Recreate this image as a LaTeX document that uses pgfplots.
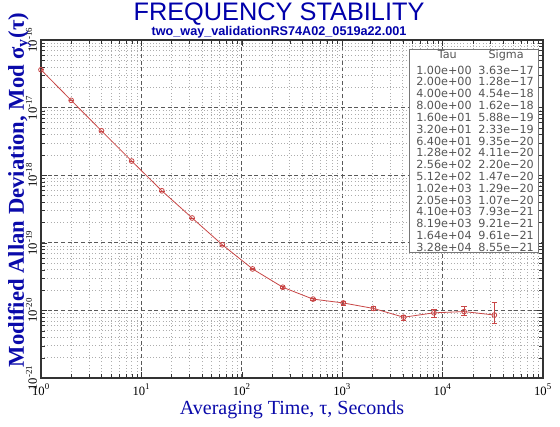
\documentclass[border=0pt]{standalone}
\usepackage{pgfplots}
\pgfplotsset{compat=1.18}
\usepackage{fontspec}
\setmainfont{Liberation Serif}
\newfontfamily\helv{Liberation Sans}
\newfontfamily\dvs{DejaVu Sans}
\definecolor{ttlblue}{RGB}{0,0,170}
\definecolor{lblblue}{RGB}{10,10,170}
\definecolor{datred}{RGB}{200,70,70}
\definecolor{tabgray}{RGB}{85,85,85}
\begin{document}
\begin{tikzpicture}
\path[use as bounding box] (-30.75pt,-36.75pt) rectangle (389.25pt,283.5pt);
\begin{axis}[
  at={(0,0)}, anchor=south west,
  scale only axis, width=376.5pt, height=253.5pt,
  xmode=log, ymode=log,
  xmin=1, xmax=1e5, ymin=1e-21, ymax=1e-16,
  xtick={1,10,100,1000,10000,100000},
  xticklabels={10\textsuperscript{0},10\textsuperscript{1},10\textsuperscript{2},10\textsuperscript{3},10\textsuperscript{4},10\textsuperscript{5}},
  ytick={1e-21,1e-20,1e-19,1e-18,1e-17,1e-16},
  yticklabels={10\textsuperscript{-21},10\textsuperscript{-20},10\textsuperscript{-19},10\textsuperscript{-18},10\textsuperscript{-17},10\textsuperscript{-16}},
  minor xtick={2,3,4,5,6,7,8,9,20,30,40,50,60,70,80,90,200,300,400,500,600,700,800,900,2000,3000,4000,5000,6000,7000,8000,9000,20000,30000,40000,50000,60000,70000,80000,90000},
  minor ytick={2e-21,3e-21,4e-21,5e-21,6e-21,7e-21,8e-21,9e-21,2e-20,3e-20,4e-20,5e-20,6e-20,7e-20,8e-20,9e-20,2e-19,3e-19,4e-19,5e-19,6e-19,7e-19,8e-19,9e-19,2e-18,3e-18,4e-18,5e-18,6e-18,7e-18,8e-18,9e-18,2e-17,3e-17,4e-17,5e-17,6e-17,7e-17,8e-17,9e-17},
  grid=both,
  major grid style={densely dashed, black!65, line width=0.5pt},
  minor grid style={dotted, black!32, line width=0.4pt},
  axis line style={black!80, line width=0.8pt},
  tick style={black!80},
  tick label style={font=\fontsize{9.5}{10}\selectfont},
  xticklabel style={anchor=base, yshift=-12.75pt},
  yticklabel style={xshift=-3pt, rotate=90, anchor=base},
  xlabel={Averaging Time, τ, Seconds},
  xlabel style={at={(axis description cs:0.5,-0.1065)}, anchor=base, font=\fontsize{15}{16}\selectfont, text=lblblue},
  ylabel={Modified Allan Deviation, Mod σ\textsubscript{y}(τ)},
  ylabel style={at={(axis description cs:-0.0339,0.556)}, anchor=base, rotate=0, font=\bfseries\fontsize{17}{18}\selectfont, text=lblblue},
]
\addplot[datred, line width=0.6pt, mark=o, mark size=1.8pt,
  error bars/.cd, y dir=both, y explicit,
  error bar style={datred, line width=0.5pt},
  error mark options={rotate=90, mark size=2pt, datred}]
coordinates {
(1,3.63e-17) += (0,0) -= (0,0)
(2,1.28e-17) += (0,0) -= (0,0)
(4,4.54e-18) += (0,0) -= (0,0)
(8,1.62e-18) += (0,0) -= (0,0)
(16,5.88e-19) += (0,0) -= (0,0)
(32,2.33e-19) += (0,0) -= (0,0)
(64,9.35e-20) += (0,0) -= (0,0)
(128,4.11e-20) += (0,0.05e-20) -= (0,0.05e-20)
(256,2.20e-20) += (0,0.04e-20) -= (0,0.04e-20)
(512,1.47e-20) += (0,0.06e-20) -= (0,0.06e-20)
(1024,1.29e-20) += (0,0.08e-20) -= (0,0.08e-20)
(2048,1.07e-20) += (0,0.07e-20) -= (0,0.07e-20)
(4096,7.93e-21) += (0,0.6e-21) -= (0,0.7e-21)
(8192,9.21e-21) += (0,1.3e-21) -= (0,1.2e-21)
(16384,9.61e-21) += (0,2.0e-21) -= (0,1.2e-21)
(32768,8.55e-21) += (0,4.7e-21) -= (0,2.1e-21)
};
\end{axis}
\node[anchor=base, font=\helv\fontsize{19}{20}\selectfont, text=ttlblue, inner sep=0pt] at (178.5pt,268pt) {FREQUENCY STABILITY};
\node[anchor=base, font=\helv\bfseries\fontsize{9.5}{10}\selectfont, text=ttlblue, inner sep=0pt] at (178.5pt,257pt) {two\_way\_validationRS74A02\_0519a22.001};
\draw[tabgray!80, fill=white, line width=0.6pt] (276pt,94.5pt) rectangle (372.75pt,246.75pt);
\node[anchor=base west, inner sep=0pt, text=tabgray, font=\dvs\fontsize{8.4}{8.75}\selectfont] at (281.25pt,239.25pt) {%
\begin{tabular}[t]{@{}l@{\hspace{5pt}}l@{}}
\multicolumn{1}{c}{Tau} & \multicolumn{1}{c}{Sigma}\\[2.5pt]
1.00e+00 & 3.63e−17\\
2.00e+00 & 1.28e−17\\
4.00e+00 & 4.54e−18\\
8.00e+00 & 1.62e−18\\
1.60e+01 & 5.88e−19\\
3.20e+01 & 2.33e−19\\
6.40e+01 & 9.35e−20\\
1.28e+02 & 4.11e−20\\
2.56e+02 & 2.20e−20\\
5.12e+02 & 1.47e−20\\
1.02e+03 & 1.29e−20\\
2.05e+03 & 1.07e−20\\
4.10e+03 & 7.93e−21\\
8.19e+03 & 9.21e−21\\
1.64e+04 & 9.61e−21\\
3.28e+04 & 8.55e−21
\end{tabular}};
\end{tikzpicture}
\end{document}
